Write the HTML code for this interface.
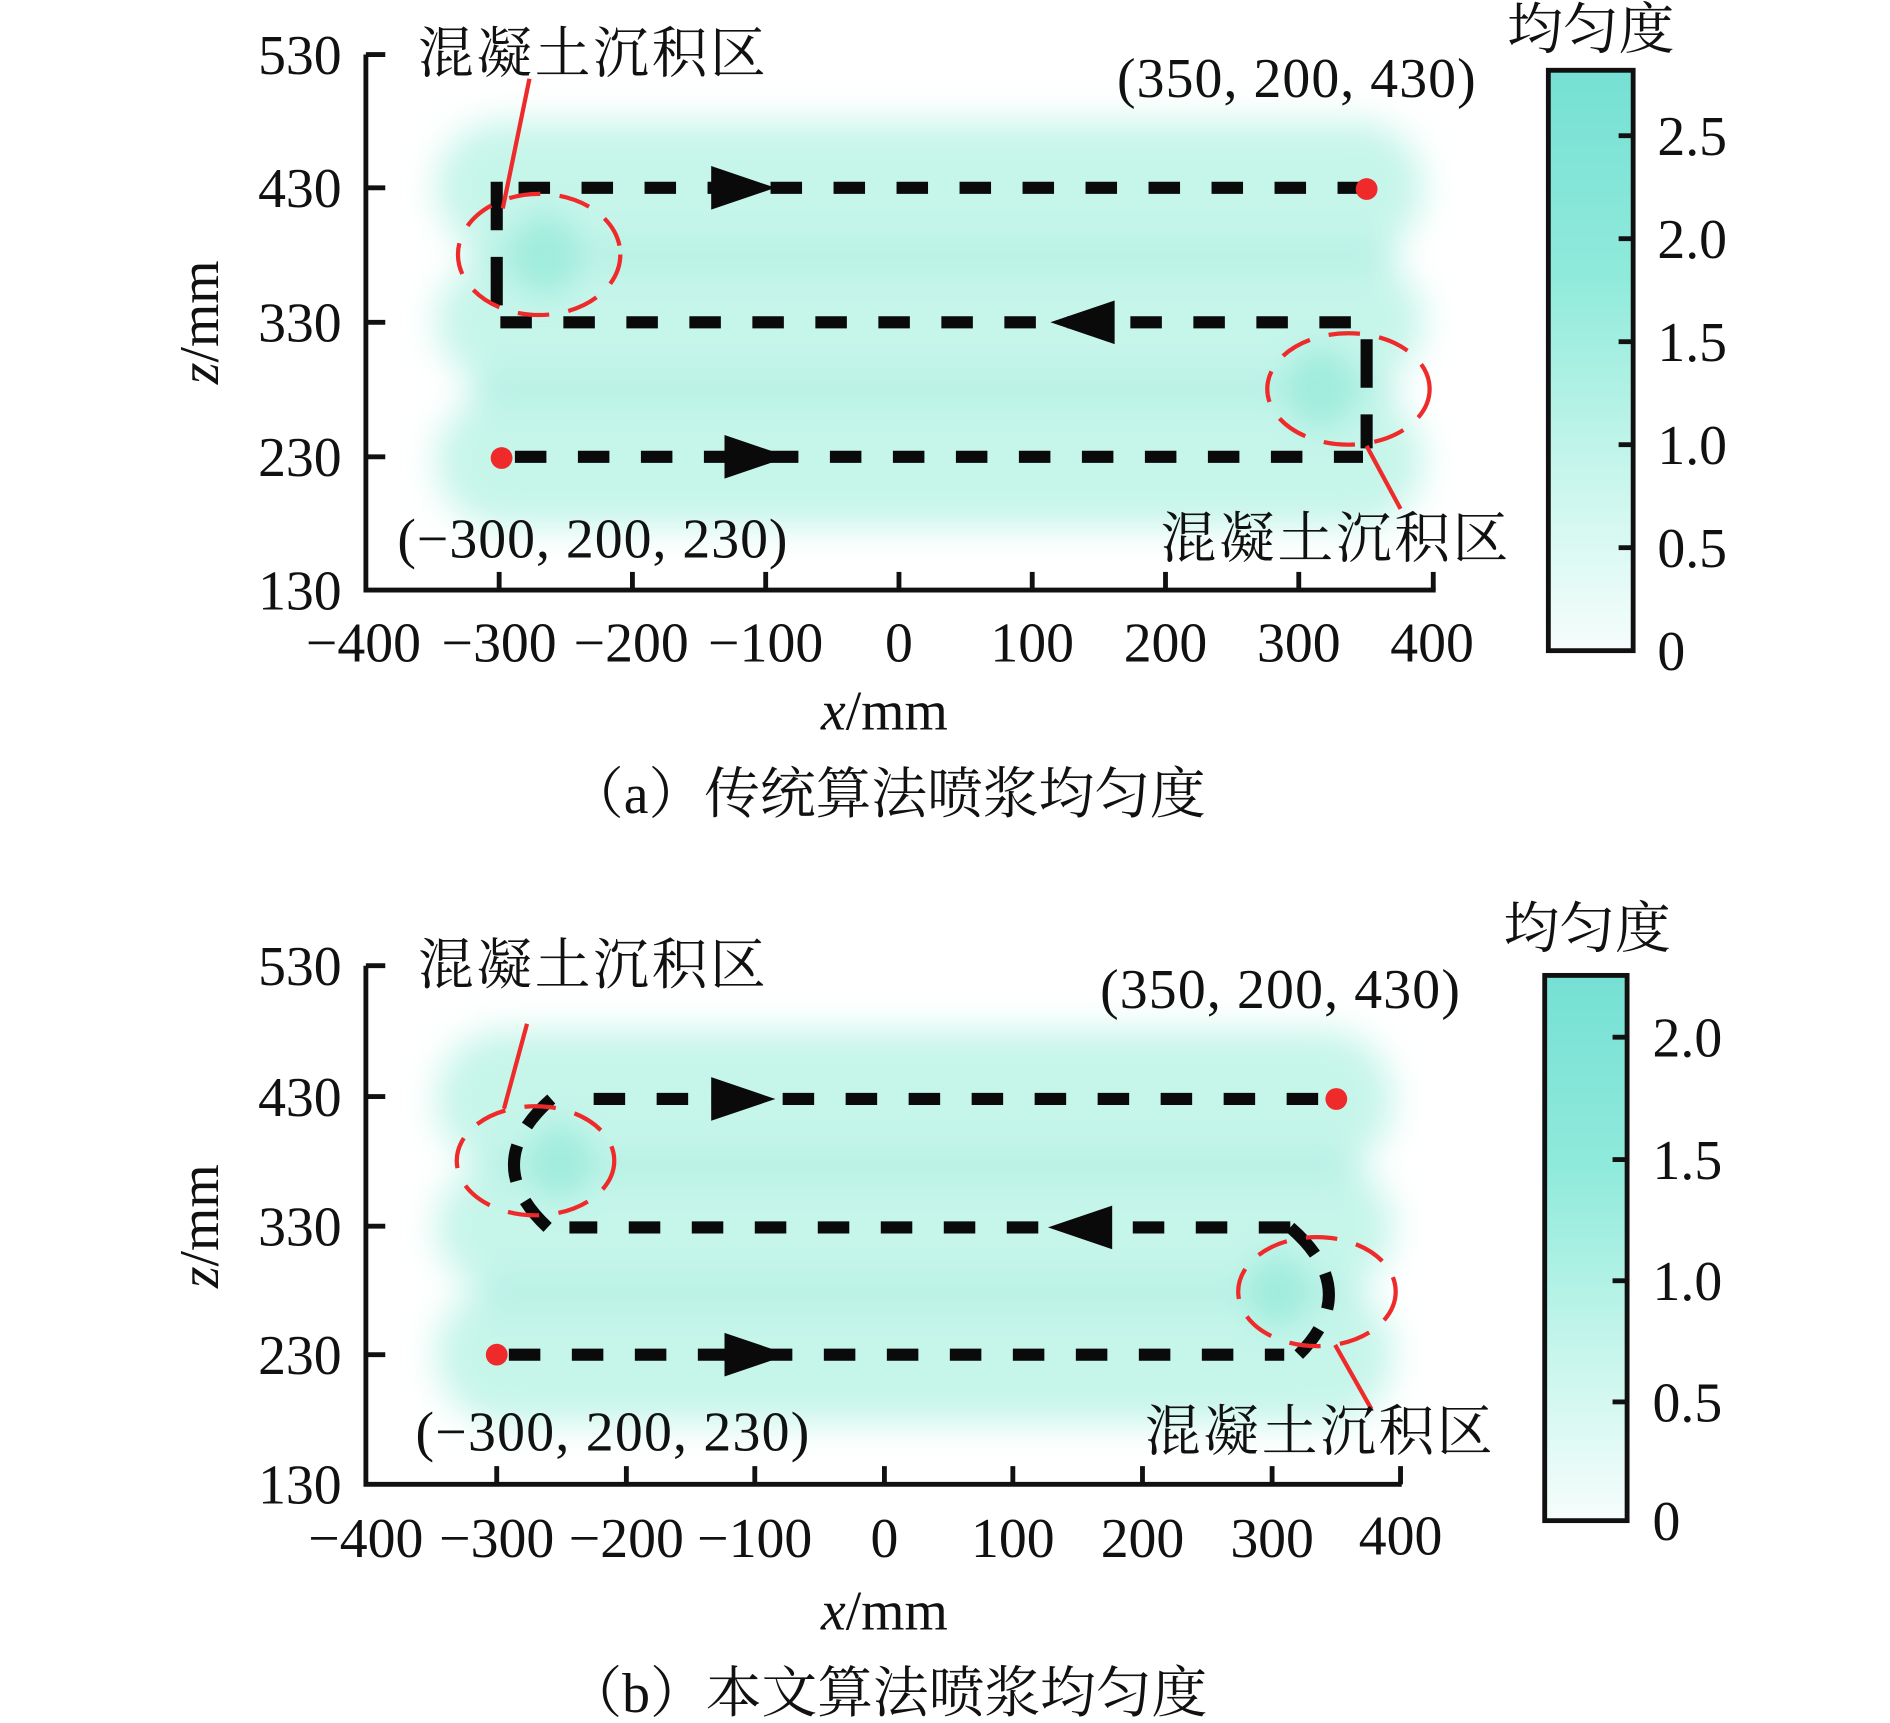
<!DOCTYPE html>
<html><head><meta charset="utf-8"><style>
html,body{margin:0;padding:0;background:#fff;}
svg{display:block;}
text{font-family:"Liberation Serif","Noto Serif CJK SC","Noto Sans CJK SC",serif;fill:#111;}
</style></head><body>
<svg width="1890" height="1723" viewBox="0 0 1560 1422" preserveAspectRatio="none" xmlns="http://www.w3.org/2000/svg">
<defs>
<filter id="bl" x="-20%" y="-20%" width="140%" height="140%"><feGaussianBlur stdDeviation="14"/></filter>
<filter id="bl2" x="-50%" y="-50%" width="200%" height="200%"><feGaussianBlur stdDeviation="12"/></filter>
<linearGradient id="cb" x1="0" y1="0" x2="0" y2="1">
<stop offset="0" stop-color="#76e0d4"/><stop offset="0.35" stop-color="#8feadb"/><stop offset="0.7" stop-color="#c8f6ec"/><stop offset="1" stop-color="#f6fdfc"/></linearGradient>
</defs>

<!-- ========== PANEL A ========== -->
<g filter="url(#bl)">
<rect x="360" y="100" width="815" height="110" rx="55" fill="#c6f5ea"/>
<rect x="360" y="215" width="815" height="100" rx="50" fill="#c6f5ea"/>
<rect x="360" y="325" width="815" height="110" rx="55" fill="#c6f5ea"/>
<rect x="390" y="202" width="760" height="18" fill="#b0efe2"/>
<rect x="390" y="312" width="760" height="18" fill="#b0efe2"/>
</g>
<ellipse cx="450" cy="210" rx="28" ry="35" fill="#8ee8d8" opacity="0.6" filter="url(#bl2)"/>
<ellipse cx="1090" cy="320" rx="28" ry="35" fill="#8ee8d8" opacity="0.6" filter="url(#bl2)"/>

<g fill="none" stroke="#0a0a0a" stroke-width="10" stroke-dasharray="26 26">
<line x1="428" y1="155" x2="1125" y2="155"/>
<line x1="1115" y1="266" x2="410" y2="266"/>
<line x1="425" y1="377" x2="1125" y2="377"/>
<line x1="410" y1="150" x2="410" y2="266" stroke-dasharray="40 22"/>
<line x1="1128" y1="280" x2="1128" y2="370" stroke-dasharray="40 22"/>
</g>
<polygon points="587,137 640,155 587,173" fill="#0a0a0a"/>
<polygon points="920,248 867,266 920,284" fill="#0a0a0a"/>
<polygon points="598,359 651,377 598,395" fill="#0a0a0a"/>
<circle cx="1128" cy="156" r="9" fill="#ee2a2a"/>
<circle cx="414" cy="378" r="9" fill="#ee2a2a"/>
<g fill="none" stroke="#ee2a2a" stroke-width="3.5">
<ellipse cx="445" cy="210" rx="67" ry="50" stroke-dasharray="26 16"/>
<ellipse cx="1113" cy="321" rx="67" ry="46" stroke-dasharray="26 16"/>
<line x1="437" y1="65" x2="415" y2="172"/>
<line x1="1128" y1="368" x2="1156" y2="420"/>
</g>

<g stroke="#111" stroke-width="4" fill="none">
<polyline points="302,45 302,487 1185,487"/>
<line x1="302" y1="45" x2="318" y2="45"/><line x1="302" y1="155" x2="318" y2="155"/>
<line x1="302" y1="266" x2="318" y2="266"/><line x1="302" y1="377" x2="318" y2="377"/>
<line x1="412" y1="487" x2="412" y2="472"/><line x1="522" y1="487" x2="522" y2="472"/>
<line x1="632" y1="487" x2="632" y2="472"/><line x1="742" y1="487" x2="742" y2="472"/>
<line x1="852" y1="487" x2="852" y2="472"/><line x1="962" y1="487" x2="962" y2="472"/>
<line x1="1072" y1="487" x2="1072" y2="472"/><line x1="1183" y1="487" x2="1183" y2="472"/>
</g>
<g font-size="46" text-anchor="end">
<text x="282" y="61">530</text><text x="282" y="171">430</text><text x="282" y="282">330</text><text x="282" y="393">230</text><text x="282" y="503">130</text>
</g>
<g font-size="46" text-anchor="middle">
<text x="300" y="546">−400</text><text x="412" y="546">−300</text><text x="521" y="546">−200</text><text x="632" y="546">−100</text>
<text x="742" y="546">0</text><text x="852" y="546">100</text><text x="962" y="546">200</text><text x="1072" y="546">300</text><text x="1182" y="546">400</text>
<text x="730" y="602"><tspan font-style="italic">x</tspan>/mm</text>
<text x="732" y="671">（a）传统算法喷浆均匀度</text>
</g>
<text font-size="46" text-anchor="middle" transform="translate(180,266) rotate(-90)"><tspan font-style="italic">z</tspan>/mm</text>
<text x="345" y="60" font-size="46" textLength="287">混凝土沉积区</text>
<text x="922" y="80" font-size="46" textLength="296">(350, 200, 430)</text>
<text x="328" y="460" font-size="46" textLength="322">(−300, 200, 230)</text>
<text x="958" y="460" font-size="46" textLength="287">混凝土沉积区</text>

<rect x="1278" y="58" width="70" height="479" fill="url(#cb)" stroke="#111" stroke-width="4"/>
<g stroke="#111" stroke-width="4">
<line x1="1336" y1="112" x2="1348" y2="112"/><line x1="1336" y1="197" x2="1348" y2="197"/>
<line x1="1336" y1="282" x2="1348" y2="282"/><line x1="1336" y1="367" x2="1348" y2="367"/>
<line x1="1336" y1="452" x2="1348" y2="452"/>
</g>
<g font-size="46">
<text x="1368" y="128">2.5</text><text x="1368" y="213">2.0</text><text x="1368" y="298">1.5</text><text x="1368" y="383">1.0</text><text x="1368" y="468">0.5</text><text x="1368" y="553">0</text>
</g>
<text x="1313" y="40" font-size="46" text-anchor="middle">均匀度</text>

<!-- ========== PANEL B ========== -->
<g filter="url(#bl)">
<rect x="360" y="850" width="790" height="115" rx="57" fill="#c6f5ea"/>
<rect x="360" y="960" width="790" height="105" rx="52" fill="#c6f5ea"/>
<rect x="360" y="1060" width="790" height="115" rx="57" fill="#c6f5ea"/>
<rect x="400" y="953" width="720" height="18" fill="#b0efe2"/>
<rect x="400" y="1058" width="720" height="18" fill="#b0efe2"/>
</g>
<ellipse cx="462" cy="958" rx="25" ry="32" fill="#8ee8d8" opacity="0.6" filter="url(#bl2)"/>
<ellipse cx="1055" cy="1065" rx="25" ry="32" fill="#8ee8d8" opacity="0.6" filter="url(#bl2)"/>

<g fill="none" stroke="#0a0a0a" stroke-width="10" stroke-dasharray="26 26">
<line x1="490" y1="907" x2="1095" y2="907"/>
<line x1="1065" y1="1013" x2="470" y2="1013"/>
<line x1="420" y1="1118" x2="1060" y2="1118"/>
<path d="M455,907 Q395,960 452,1013" stroke-dasharray="30 18"/>
<path d="M1065,1013 Q1125,1065 1072,1118" stroke-dasharray="30 18"/>
</g>
<polygon points="587,889 640,907 587,925" fill="#0a0a0a"/>
<polygon points="918,995 865,1013 918,1031" fill="#0a0a0a"/>
<polygon points="598,1100 651,1118 598,1136" fill="#0a0a0a"/>
<circle cx="1103" cy="907" r="9" fill="#ee2a2a"/>
<circle cx="410" cy="1118" r="9" fill="#ee2a2a"/>
<g fill="none" stroke="#ee2a2a" stroke-width="3.5">
<ellipse cx="442" cy="958" rx="65" ry="45" stroke-dasharray="26 16"/>
<ellipse cx="1087" cy="1066" rx="65" ry="45" stroke-dasharray="26 16"/>
<line x1="435" y1="845" x2="416" y2="915"/>
<line x1="1102" y1="1110" x2="1132" y2="1163"/>
</g>

<g stroke="#111" stroke-width="4" fill="none">
<polyline points="302,797 302,1225 1157,1225"/>
<line x1="302" y1="797" x2="318" y2="797"/><line x1="302" y1="905" x2="318" y2="905"/>
<line x1="302" y1="1012" x2="318" y2="1012"/><line x1="302" y1="1118" x2="318" y2="1118"/>
<line x1="410" y1="1225" x2="410" y2="1210"/><line x1="517" y1="1225" x2="517" y2="1210"/>
<line x1="623" y1="1225" x2="623" y2="1210"/><line x1="730" y1="1225" x2="730" y2="1210"/>
<line x1="836" y1="1225" x2="836" y2="1210"/><line x1="943" y1="1225" x2="943" y2="1210"/>
<line x1="1050" y1="1225" x2="1050" y2="1210"/><line x1="1156" y1="1225" x2="1156" y2="1210"/>
</g>
<g font-size="46" text-anchor="end">
<text x="282" y="813">530</text><text x="282" y="921">430</text><text x="282" y="1028">330</text><text x="282" y="1134">230</text><text x="282" y="1241">130</text>
</g>
<g font-size="46" text-anchor="middle">
<text x="302" y="1285">−400</text><text x="410" y="1285">−300</text><text x="517" y="1285">−200</text><text x="623" y="1285">−100</text>
<text x="730" y="1285">0</text><text x="836" y="1285">100</text><text x="943" y="1285">200</text><text x="1050" y="1285">300</text><text x="1156" y="1283">400</text>
<text x="730" y="1345"><tspan font-style="italic">x</tspan>/mm</text>
<text x="732" y="1413">（b）本文算法喷浆均匀度</text>
</g>
<text font-size="46" text-anchor="middle" transform="translate(180,1012) rotate(-90)"><tspan font-style="italic">z</tspan>/mm</text>
<text x="345" y="812" font-size="46" textLength="287">混凝土沉积区</text>
<text x="908" y="832" font-size="46" textLength="297">(350, 200, 430)</text>
<text x="343" y="1197" font-size="46" textLength="325">(−300, 200, 230)</text>
<text x="945" y="1197" font-size="46" textLength="287">混凝土沉积区</text>

<rect x="1275" y="805" width="68" height="450" fill="url(#cb)" stroke="#111" stroke-width="4"/>
<g stroke="#111" stroke-width="4">
<line x1="1331" y1="856" x2="1343" y2="856"/><line x1="1331" y1="957" x2="1343" y2="957"/>
<line x1="1331" y1="1057" x2="1343" y2="1057"/><line x1="1331" y1="1157" x2="1343" y2="1157"/>
</g>
<g font-size="46">
<text x="1364" y="872">2.0</text><text x="1364" y="973">1.5</text><text x="1364" y="1073">1.0</text><text x="1364" y="1173">0.5</text><text x="1364" y="1271">0</text>
</g>
<text x="1310" y="782" font-size="46" text-anchor="middle">均匀度</text>
</svg>
</body></html>
